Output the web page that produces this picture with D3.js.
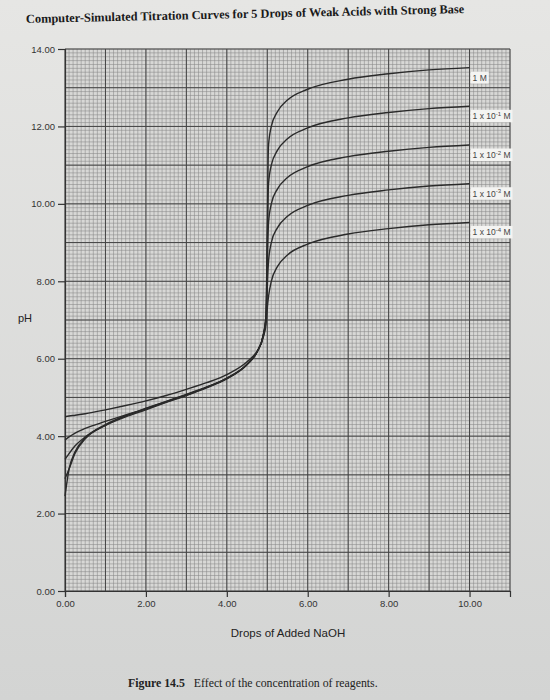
<!DOCTYPE html>
<meta charset="utf-8">
<body style="margin:0">
<script src="https://cdn.jsdelivr.net/npm/d3@7/dist/d3.min.js"></script>
<script>

 // drops of NaOH added (x) and pH of each acid concentration
 const drops = [0, 0.1, 0.25, 0.5, 1, 1.5, 2, 2.5, 3, 3.5, 4, 4.5, 4.75, 4.9, 4.97, 5.0, 5.03, 5.1, 5.25, 5.5, 6, 7, 8, 9, 10];
 const pH_1M    = [2.45, 3.15, 3.6, 3.95, 4.3, 4.53, 4.72, 4.9, 5.08, 5.27, 5.5, 5.85, 6.18, 6.6, 7.12, 9.4, 11.5, 12.0, 12.38, 12.68, 12.96, 13.22, 13.36, 13.46, 13.52];
 const pH_1e_1  = [2.9, 3.15, 3.56, 3.93, 4.28, 4.52, 4.71, 4.89, 5.07, 5.26, 5.49, 5.85, 6.18, 6.6, 7.12, 8.9, 10.5, 11.0, 11.38, 11.68, 11.96, 12.22, 12.36, 12.46, 12.52];
 const pH_1e_2  = [3.4, 3.55, 3.75, 3.98, 4.28, 4.5, 4.68, 4.87, 5.05, 5.25, 5.48, 5.85, 6.18, 6.6, 7.1, 8.35, 9.5, 10.0, 10.38, 10.68, 10.96, 11.22, 11.36, 11.46, 11.52];
 const pH_1e_3  = [3.9, 3.98, 4.08, 4.2, 4.38, 4.55, 4.7, 4.88, 5.06, 5.26, 5.49, 5.86, 6.18, 6.58, 7.0, 7.85, 8.5, 9.0, 9.38, 9.68, 9.96, 10.22, 10.36, 10.46, 10.52];
 const pH_1e_4  = [4.5, 4.52, 4.54, 4.58, 4.68, 4.79, 4.91, 5.05, 5.21, 5.38, 5.59, 5.92, 6.2, 6.55, 6.9, 7.3, 7.6, 8.0, 8.38, 8.68, 8.96, 9.22, 9.36, 9.46, 9.52];

 const seriesValues = [pH_1M, pH_1e_1, pH_1e_2, pH_1e_3, pH_1e_4];
 const labelExponents = [null, "-1", "-2", "-3", "-4"];

 const xTicks = [0, 2, 4, 6, 8, 10];
 const yTicks = [0, 2, 4, 6, 8, 10, 12, 14];

 var width = 550;
 var height = 700;

 const svg = d3.select('body').append('svg')
               .attr('width', width)
               .attr('height', height)
               .attr('font-family', 'Liberation Sans, Arial, sans-serif');

 // paper background
 const defs = svg.append('defs');
 const grad = defs.append('linearGradient')
                  .attr('id', 'paper')
                  .attr('x1', 0).attr('y1', 0).attr('x2', 0).attr('y2', 1);
 grad.append('stop').attr('offset', '0%').attr('stop-color', '#e6e6e4');
 grad.append('stop').attr('offset', '100%').attr('stop-color', '#d3d4d3');
 svg.append('rect')
    .attr('width', width)
    .attr('height', height)
    .attr('fill', 'url(#paper)');

 var x = d3.scaleLinear()
           .domain([0, 11])
           .range([65, 510]);

 var y = d3.scaleLinear()
           .domain([0, 14])
           .range([591, 49]);

 const gridG = svg.append('g');

 gridG.append('rect')
      .attr('x', x(0))
      .attr('y', y(14))
      .attr('width', x(11) - x(0))
      .attr('height', y(0) - y(14))
      .attr('fill', '#d8d8d6');

 // minor grid, every 0.1
 var minorX = d3.range(0, 111).map(d => d / 10);
 var minorY = d3.range(0, 141).map(d => d / 10);

 gridG.selectAll('.minor-x')
      .data(minorX)
      .enter()
      .append('line')
      .attr('x1', d => x(d)).attr('x2', d => x(d))
      .attr('y1', y(0)).attr('y2', y(14))
      .attr('stroke', '#888')
      .attr('stroke-width', 0.55);

 gridG.selectAll('.minor-y')
      .data(minorY)
      .enter()
      .append('line')
      .attr('y1', d => y(d)).attr('y2', d => y(d))
      .attr('x1', x(0)).attr('x2', x(11))
      .attr('stroke', '#888')
      .attr('stroke-width', 0.55);

 // major grid, every unit
 gridG.selectAll('.major-x')
      .data(d3.range(0, 12))
      .enter()
      .append('line')
      .attr('x1', d => x(d)).attr('x2', d => x(d))
      .attr('y1', y(0)).attr('y2', y(14))
      .attr('stroke', '#444')
      .attr('stroke-width', 1);

 gridG.selectAll('.major-y')
      .data(d3.range(0, 15))
      .enter()
      .append('line')
      .attr('y1', d => y(d)).attr('y2', d => y(d))
      .attr('x1', x(0)).attr('x2', x(11))
      .attr('stroke', '#444')
      .attr('stroke-width', 1);

 // axes
 const xAxis = d3.axisBottom(x)
                 .tickValues(xTicks)
                 .tickFormat(d3.format('.2f'))
                 .tickSize(6)
                 .tickPadding(3);

 const yAxis = d3.axisLeft(y)
                 .tickValues(yTicks)
                 .tickFormat(d3.format('.2f'))
                 .tickSize(7)
                 .tickPadding(3);

 const xg = svg.append('g')
               .attr('transform', `translate(0,${y(0)})`)
               .call(xAxis);
 const yg = svg.append('g')
               .attr('transform', `translate(${x(0)},0)`)
               .call(yAxis);

 [xg, yg].forEach(g => {
     g.select('.domain').attr('stroke', '#333').attr('stroke-width', 1.2);
     g.selectAll('.tick line').attr('stroke', '#333').attr('stroke-width', 1.2);
     g.selectAll('.tick text')
      .attr('fill', '#333')
      .attr('font-size', 9.5)
      .attr('font-family', 'Liberation Sans, Arial, sans-serif');
 });

 // curves
 var line = d3.line()
              .x(d => x(d[0]))
              .y(d => y(d[1]))
              .curve(d3.curveMonotoneX);

 svg.append('g')
    .selectAll('path')
    .data(seriesValues)
    .enter()
    .append('path')
    .attr('d', vals => line(drops.map((d, i) => [d, vals[i]])))
    .attr('fill', 'none')
    .attr('stroke', '#2a2a2a')
    .attr('stroke-width', 1.4);

 // labels at the end of each curve
 const labelG = svg.append('g');
 seriesValues.forEach((vals, i) => {
     var last = vals[vals.length - 1];
     var g = labelG.append('g')
                   .attr('transform', `translate(${x(10) + 3},${y(last) + 13})`);
     var rect = g.append('rect').attr('fill', '#f4f4f2');
     var t = g.append('text')
              .attr('font-size', 8.5)
              .attr('fill', '#444');
     if (labelExponents[i] === null) {
         t.text('1 M');
     } else {
         t.append('tspan').text('1 x 10');
         t.append('tspan')
          .attr('font-size', 6)
          .attr('dy', -3.5)
          .text(labelExponents[i]);
         t.append('tspan')
          .attr('dy', 3.5)
          .text(' M');
     }
     var bb = t.node().getBBox();
     rect.attr('x', bb.x - 2)
         .attr('y', bb.y - 1)
         .attr('width', bb.width + 4)
         .attr('height', bb.height + 2);
 });

 // titles
 svg.append('text')
    .attr('transform', 'translate(26,23) rotate(-1.3)')
    .attr('font-family', 'Liberation Serif, Times New Roman, serif')
    .attr('font-weight', 'bold')
    .attr('font-size', 12.4)
    .attr('fill', '#1a1a1a')
    .text('Computer-Simulated Titration Curves for 5 Drops of Weak Acids with Strong Base');

 svg.append('text')
    .attr('x', 288)
    .attr('y', 637)
    .attr('text-anchor', 'middle')
    .attr('font-size', 11.5)
    .attr('fill', '#222')
    .text('Drops of Added NaOH');

 svg.append('text')
    .attr('x', 25)
    .attr('y', 322)
    .attr('text-anchor', 'middle')
    .attr('font-size', 11)
    .attr('fill', '#222')
    .text('pH');

 const cap = svg.append('text')
                .attr('x', 128)
                .attr('y', 687)
                .attr('font-family', 'Liberation Serif, Times New Roman, serif')
                .attr('font-size', 11.8)
                .attr('fill', '#222');
 cap.append('tspan').attr('font-weight', 'bold').text('Figure 14.5');
 cap.append('tspan').attr('dx', 9).text('Effect of the concentration of reagents.');

</script>
